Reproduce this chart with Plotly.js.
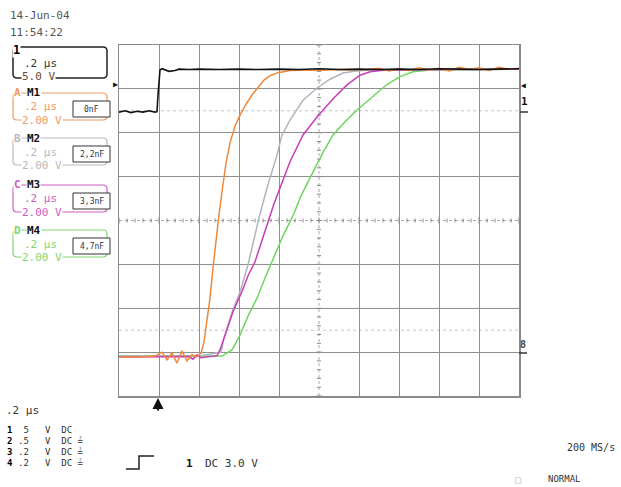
<!DOCTYPE html>
<html><head><meta charset="utf-8">
<script src="https://cdn.plot.ly/plotly-3.0.1.min.js"></script>
<style>html,body{margin:0;padding:0;background:#fff;}#chart{width:621px;height:487px;}</style>
</head><body><div id="chart"></div>
<script>
// ---- data (time in µs, amplitude in screen divisions from centre) ----
const ch1Time = [-0.2,-0.17,-0.14,-0.11,-0.08,-0.05,-0.02,-0.01,-0.005,0,0.005,0.015,0.03,0.05,0.08,0.1,0.15,0.2,0.3,0.4,0.5,0.6,0.7,0.8,0.9,1.0,1.1,1.2,1.3,1.4,1.5,1.6,1.7,1.8];
const ch1Div  = [2.47,2.50,2.46,2.49,2.47,2.50,2.47,2.48,2.86,3.25,3.43,3.46,3.44,3.40,3.42,3.45,3.44,3.45,3.44,3.45,3.44,3.45,3.44,3.46,3.44,3.45,3.44,3.45,3.44,3.46,3.45,3.44,3.45,3.46];

const m1Time = [-0.2,-0.1,-0.02,0.015,0.04,0.065,0.09,0.115,0.14,0.165,0.19,0.21,0.225,0.24,0.255,0.27,0.285,0.30,0.315,0.335,0.355,0.38,0.405,0.435,0.465,0.495,0.525,0.555,0.595,0.655,0.72,0.8,0.88,0.96,1.04,1.1,1.15,1.2,1.25,1.3,1.35,1.4,1.45,1.5,1.55,1.6,1.65,1.7,1.75,1.8];
const m1Div  = [-3.11,-3.11,-3.09,-3.00,-3.18,-3.02,-3.25,-2.97,-3.20,-3.06,-3.11,-3.02,-2.77,-2.27,-1.77,-1.08,-0.44,0.13,0.65,1.31,1.77,2.15,2.40,2.65,2.86,3.04,3.20,3.30,3.37,3.42,3.43,3.42,3.44,3.43,3.44,3.47,3.41,3.46,3.42,3.48,3.43,3.47,3.41,3.49,3.44,3.48,3.42,3.49,3.45,3.47];

const m2Time = [-0.2,0.0,0.2,0.31,0.325,0.365,0.405,0.445,0.475,0.50,0.54,0.59,0.615,0.655,0.72,0.79,0.855,0.92,0.985,1.055,1.2,1.4,1.6,1.8];
const m2Div  = [-3.09,-3.09,-3.09,-3.0,-2.68,-2.09,-1.63,-1.01,-0.44,0.06,0.74,1.49,1.95,2.29,2.74,3.02,3.22,3.36,3.41,3.43,3.44,3.44,3.45,3.45];

const m3Time = [-0.2,0.0,0.15,0.17,0.19,0.21,0.25,0.29,0.305,0.33,0.37,0.415,0.445,0.48,0.515,0.547,0.575,0.605,0.655,0.72,0.797,0.872,0.94,1.005,1.055,1.13,1.3,1.5,1.8];
const m3Div  = [-3.11,-3.11,-3.10,-3.16,-3.06,-3.13,-3.10,-3.08,-2.95,-2.63,-2.08,-1.62,-1.26,-0.94,-0.44,0.01,0.38,0.74,1.34,1.95,2.40,2.78,3.09,3.31,3.39,3.43,3.44,3.44,3.45];

const m4Time = [-0.2,0.0,0.2,0.315,0.365,0.405,0.445,0.49,0.53,0.572,0.62,0.672,0.71,0.755,0.822,0.87,0.93,0.99,1.07,1.14,1.205,1.27,1.355,1.5,1.65,1.8];
const m4Div  = [-3.09,-3.09,-3.09,-3.09,-2.95,-2.61,-2.18,-1.77,-1.31,-0.85,-0.35,0.13,0.56,0.97,1.57,1.95,2.25,2.52,2.83,3.10,3.28,3.39,3.43,3.44,3.44,3.45];

const mathNames   = ['M1','M2','M3','M4'];
const traceLetters= ['A','B','C','D'];
const capLabels   = ['0nF','2,2nF','3,3nF','4,7nF'];
const timeDivText = '.2 μs';
const mathVoltText= '2.00 V';
const ch1VoltText = '5.0 V';
const dateText = '14-Jun-04';
const clockText = '11:54:22';
const chanNumbers = ['1','2','3','4'];
const chanSettings = [' 5   V  DC', '.5   V  DC ≟', '.2   V  DC ≟', '.2   V  DC ≟'];
const trigChan = '1';
const trigText = 'DC 3.0 V';
const rateText = '200 MS/s';
const modeText = 'NORMAL';

// ---- styling ----
const colors = ['#f0883a','#b0b4c0','#c83cb8','#6cd65c'];
const textColors = ['#f29a66','#b9b9b9','#cf5cc2','#80d870'];
const MONO = 'DejaVu Sans Mono, monospace';
const L=119, R=519, T=45, B=396;
const px = x => (x-L)/(R-L);
const py = y => (B-y)/(B-T);

const traces = [];
const mTimes=[m1Time,m2Time,m3Time,m4Time], mVals=[m1Div,m2Div,m3Div,m4Div];
[3,1,2,0].forEach(i=>{
  traces.push({x:mTimes[i], y:mVals[i], type:'scatter', mode:'lines', name:mathNames[i],
    line:{color:colors[i], width:1.5}, hoverinfo:'skip'});
});
traces.push({x:ch1Time, y:ch1Div, type:'scatter', mode:'lines', name:'1',
  line:{color:'#111', width:1.6}, hoverinfo:'skip'});

const shapes = [];
shapes.push({type:'line', xref:'x', yref:'y', x0:0.8, x1:0.8, y0:-4, y1:4, line:{color:'#aaa', width:1, dash:'dot'}, layer:'below'});
shapes.push({type:'line', xref:'x', yref:'y', x0:-0.2, x1:1.8, y0:0, y1:0, line:{color:'#aaa', width:1, dash:'dot'}, layer:'below'});
for (let k=-20;k<=20;k++){
  const y=k*0.2, big = (k%5===0);
  shapes.push({type:'line', xref:'x', yref:'y', x0:0.8-(big?0.015:0.01), x1:0.8+(big?0.015:0.01), y0:y, y1:y, line:{color:'#888', width:1}, layer:'below'});
}
for (let k=0;k<=50;k++){
  const x=-0.2+k*0.04, big=(k%5===0);
  shapes.push({type:'line', xref:'x', yref:'y', x0:x, x1:x, y0:-(big?0.07:0.045), y1:(big?0.07:0.045), line:{color:'#888', width:1}, layer:'below'});
}
[2.5,-2.5].forEach(v=>shapes.push({type:'line', xref:'paper', yref:'y', x0:0, x1:1, y0:v, y1:v, line:{color:'#c4c4c4', width:1, dash:'dot'}, layer:'below'}));

function rrect(x0,y0,x1,y1,r){
  return `M ${px(x0+r)},${py(y0)} L ${px(x1-r)},${py(y0)} Q ${px(x1)},${py(y0)} ${px(x1)},${py(y0+r)} L ${px(x1)},${py(y1-r)} Q ${px(x1)},${py(y1)} ${px(x1-r)},${py(y1)} L ${px(x0+r)},${py(y1)} Q ${px(x0)},${py(y1)} ${px(x0)},${py(y1-r)} L ${px(x0)},${py(y0+r)} Q ${px(x0)},${py(y0)} ${px(x0+r)},${py(y0)} Z`;
}
function pathPx(pts){ return pts.map((p,i)=>(i?'L ':'M ')+px(p[0])+','+py(p[1])).join(' '); }

const annotations = [];
function ann(text,x,y,o){
  o=o||{};
  annotations.push({text:text, xref:'paper', yref:'paper', x:px(x), y:py(y), showarrow:false,
    xanchor:o.xa||'left', yanchor:'middle', borderpad:0,
    bgcolor:o.bg||'rgba(0,0,0,0)',
    font:{family:MONO, size:o.size||11, color:o.color||'#333'}});
}

ann(dateText, 9, 15, {color:'#555', size:11});
ann(clockText, 9, 32, {color:'#555', size:11});
shapes.push({type:'path', xref:'paper', yref:'paper', path:rrect(13,47,107,78,4), line:{color:'#222', width:1.5}});
ann('<b>1</b>', 12, 50, {color:'#000', size:12, bg:'#fff'});
ann(timeDivText, 23, 63, {color:'#333', size:11});
ann(ch1VoltText, 21, 76, {color:'#6b4a35', size:11, bg:'#fff'});
const groupY = [93,138,185,230];
for (let i=0;i<4;i++){
  const y0 = groupY[i];
  shapes.push({type:'path', xref:'paper', yref:'paper', path:rrect(13,y0,107,y0+27,4), line:{color:textColors[i], width:1.2}});
  shapes.push({type:'rect', xref:'paper', yref:'paper', x0:px(73), x1:px(110), y0:py(y0+8), y1:py(y0+24), line:{color:'#333', width:1}, fillcolor:'#fff'});
  ann('<b>'+traceLetters[i]+'</b>', 13, y0, {color:textColors[i], size:11, bg:'#fff'});
  ann('<b>'+mathNames[i]+'</b>', 26, y0, {color:'#111', size:11, bg:'#fff'});
  ann(timeDivText, 23, y0+14, {color:textColors[i], size:11});
  ann(mathVoltText, 21, y0+27, {color:textColors[i], size:11, bg:'#fff'});
  ann(capLabels[i], 91.5, y0+16, {color:'#334', size:8, xa:'center'});
}
ann('▶', 115, 84, {color:'#111', size:8, xa:'center'});
ann('◀', 523, 86, {color:'#111', size:8, xa:'center'});
ann('<b>1</b>', 524, 101, {color:'#111', size:11, xa:'center'});
shapes.push({type:'line', xref:'paper', yref:'paper', x0:px(520), x1:px(528), y0:py(112), y1:py(112), line:{color:'#333', width:1.5}});
ann('<b>8</b>', 523, 344, {color:'#444', size:10, xa:'center'});
shapes.push({type:'line', xref:'paper', yref:'paper', x0:px(519), x1:px(527), y0:py(353), y1:py(353), line:{color:'#333', width:1.5}});
annotations.push({text:'', xref:'paper', yref:'paper', x:px(158), y:py(398), ax:0, ay:14,
  showarrow:true, arrowhead:2, arrowsize:1, arrowwidth:2.2, arrowcolor:'#111'});

ann(timeDivText, 5, 410, {color:'#333', size:11});
const rowY = [430,441,452,463];
for (let i=0;i<4;i++){
  ann('<b>'+chanNumbers[i]+'</b>', 6, rowY[i], {color:'#000', size:9});
  ann(chanSettings[i], 17, rowY[i], {color:'#333', size:9});
}
shapes.push({type:'path', xref:'paper', yref:'paper', path:pathPx([[126,469],[139,469],[139,456],[154,456]]), line:{color:'#222', width:1.5}});
ann('<b>'+trigChan+'</b>', 185, 463, {color:'#111', size:11});
ann(trigText, 204, 463, {color:'#333', size:11});
ann(rateText, 566, 447, {color:'#333', size:10});
ann('□', 518, 479, {color:'#bbb', size:10, xa:'center'});
ann(modeText, 547, 479, {color:'#333', size:9});

const gridVals = [-0.2,0,0.2,0.4,0.6,1.0,1.2,1.4,1.6,1.8];
const layout = {
  width:621, height:487,
  margin:{l:L, r:621-R, t:T, b:487-B, pad:0},
  paper_bgcolor:'#fff', plot_bgcolor:'#fff',
  showlegend:false,
  xaxis:{range:[-0.2,1.8], tickmode:'array', tickvals:gridVals, showticklabels:false, ticks:'',
    showgrid:true, gridcolor:'#8f8f8f', gridwidth:1, zeroline:false,
    showline:true, mirror:true, linecolor:'#8a8a8a', linewidth:1.5, fixedrange:true},
  yaxis:{range:[-4,4], tickmode:'array', tickvals:[-3,-2,-1,1,2,3], showticklabels:false, ticks:'',
    showgrid:true, gridcolor:'#8f8f8f', gridwidth:1, zeroline:false,
    showline:true, mirror:true, linecolor:'#8a8a8a', linewidth:1.5, fixedrange:true},
  shapes:shapes, annotations:annotations
};
Plotly.newPlot('chart', traces, layout, {displayModeBar:false, staticPlot:true});
</script></body></html>
